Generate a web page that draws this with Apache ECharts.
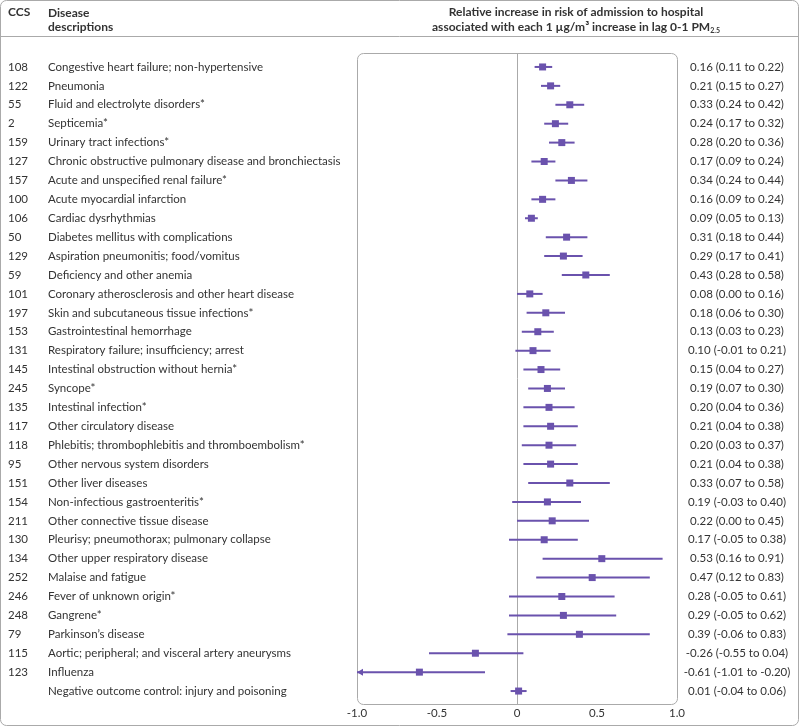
<!DOCTYPE html>
<html>
<head>
<meta charset="utf-8">
<script src="https://cdn.jsdelivr.net/npm/echarts@6/dist/echarts.min.js"></script>
<style>
  html, body { margin: 0; padding: 0; background: #fff; }
  #chart { width: 800px; height: 727px; }
</style>
</head>
<body>
<div id="chart"></div>
<script>
const ccs = ['108', '122', '55', '2', '159', '127', '157', '100', '106', '50', '129', '59', '101', '197', '153', '131', '145', '245', '135', '117', '118', '95', '151', '154', '211', '130', '134', '252', '246', '248', '79', '115', '123', '']
const diseases = [
  'Congestive heart failure; non-hypertensive',
  'Pneumonia',
  'Fluid and electrolyte disorders*',
  'Septicemia*',
  'Urinary tract infections*',
  'Chronic obstructive pulmonary disease and bronchiectasis',
  'Acute and unspecified renal failure*',
  'Acute myocardial infarction',
  'Cardiac dysrhythmias',
  'Diabetes mellitus with complications',
  'Aspiration pneumonitis; food/vomitus',
  'Deficiency and other anemia',
  'Coronary atherosclerosis and other heart disease',
  'Skin and subcutaneous tissue infections*',
  'Gastrointestinal hemorrhage',
  'Respiratory failure; insufficiency; arrest',
  'Intestinal obstruction without hernia*',
  'Syncope*',
  'Intestinal infection*',
  'Other circulatory disease',
  'Phlebitis; thrombophlebitis and thromboembolism*',
  'Other nervous system disorders',
  'Other liver diseases',
  'Non-infectious gastroenteritis*',
  'Other connective tissue disease',
  'Pleurisy; pneumothorax; pulmonary collapse',
  'Other upper respiratory disease',
  'Malaise and fatigue',
  'Fever of unknown origin*',
  'Gangrene*',
  'Parkinson\u2019s disease',
  'Aortic; peripheral; and visceral artery aneurysms',
  'Influenza',
  'Negative outcome control: injury and poisoning'
]
const est = [0.16, 0.21, 0.33, 0.24, 0.28, 0.17, 0.34, 0.16, 0.09, 0.31, 0.29, 0.43, 0.08, 0.18, 0.13, 0.10, 0.15, 0.19, 0.20, 0.21, 0.20, 0.21, 0.33, 0.19, 0.22, 0.17, 0.53, 0.47, 0.28, 0.29, 0.39, -0.26, -0.61, 0.01]
const lower = [0.11, 0.15, 0.24, 0.17, 0.20, 0.09, 0.24, 0.09, 0.05, 0.18, 0.17, 0.28, 0.00, 0.06, 0.03, -0.01, 0.04, 0.07, 0.04, 0.04, 0.03, 0.04, 0.07, -0.03, 0.00, -0.05, 0.16, 0.12, -0.05, -0.05, -0.06, -0.55, -1.01, -0.04]
const upper = [0.22, 0.27, 0.42, 0.32, 0.36, 0.24, 0.44, 0.24, 0.13, 0.44, 0.41, 0.58, 0.16, 0.30, 0.23, 0.21, 0.27, 0.30, 0.36, 0.38, 0.37, 0.38, 0.58, 0.40, 0.45, 0.38, 0.91, 0.83, 0.61, 0.62, 0.83, 0.04, -0.20, 0.06]
const xTicks = ['-1.0', '-0.5', '0', '0.5', '1.0']
const xMin = -1
const xMax = 1

const textColor = '#333'
const markColor = '#6a52ad'
const lineGray = '#aaa'
const font = 'Lato, "Noto Sans", sans-serif'
const bodySize = 11.5

const fmt = v => v.toFixed(2)
const ciLabels = est.map((e, i) => `${fmt(e)} (${fmt(lower[i])} to ${fmt(upper[i])})`)

const chart = echarts.init(document.getElementById('chart'))

const gridTop = 57.5
const gridHeight = 643

const option = {
  animation: false,
  textStyle: { fontFamily: font },
  grid: { left: 357, width: 320, top: gridTop, height: gridHeight },
  xAxis: {
    type: 'value',
    min: xMin,
    max: xMax,
    interval: 0.5,
    axisLine: { show: false },
    axisTick: { show: false },
    splitLine: { show: false },
    axisLabel: {
      margin: 7,
      fontSize: bodySize,
      color: textColor,
      fontFamily: font,
      formatter: v => xTicks[Math.round((v - xMin) / 0.5)]
    }
  },
  yAxis: [
    {
      type: 'category',
      inverse: true,
      data: diseases,
      position: 'left',
      axisLine: { show: false },
      axisTick: { show: false },
      axisLabel: {
        interval: 0,
        align: 'left',
        margin: 349,
        formatter: (v, i) => `{c|${ccs[i]}}{d|${v}}`,
        rich: {
          c: { width: 40, fontSize: bodySize, color: textColor, fontFamily: font },
          d: { fontSize: bodySize, color: textColor, fontFamily: font }
        }
      }
    },
    {
      type: 'category',
      inverse: true,
      data: ciLabels,
      position: 'right',
      axisLine: { show: false },
      axisTick: { show: false },
      axisLabel: {
        interval: 0,
        align: 'center',
        margin: 60,
        fontSize: bodySize,
        color: textColor,
        fontFamily: font
      }
    }
  ],
  series: [
    {
      type: 'custom',
      xAxisIndex: 0,
      yAxisIndex: 0,
      clip: false,
      data: est.map((e, i) => [e, i, lower[i], upper[i]]),
      encode: { x: 0, y: 1 },
      renderItem(params, api) {
        const row = api.value(1)
        const lo = api.value(2)
        const hi = api.value(3)
        const p = api.coord([api.value(0), row])
        const pLo = api.coord([Math.max(lo, xMin), row])
        const pHi = api.coord([Math.min(hi, xMax), row])
        const children = [
          {
            type: 'line',
            shape: { x1: pLo[0], y1: p[1], x2: pHi[0], y2: p[1] },
            style: { stroke: markColor, lineWidth: 2 }
          },
          {
            type: 'rect',
            shape: { x: p[0] - 3.5, y: p[1] - 3.5, width: 7, height: 7 },
            style: { fill: markColor }
          }
        ]
        if (lo < xMin) {
          children.push({
            type: 'polygon',
            shape: { points: [[pLo[0], p[1]], [pLo[0] + 6, p[1] - 3.5], [pLo[0] + 6, p[1] + 3.5]] },
            style: { fill: markColor }
          })
        }
        return { type: 'group', children }
      }
    }
  ]
}
chart.setOption(option)

// frame, header and zero line, placed from the grid's own scale
const xLeft = chart.convertToPixel({ xAxisIndex: 0 }, xMin)
const xRight = chart.convertToPixel({ xAxisIndex: 0 }, xMax)
const xZero = chart.convertToPixel({ xAxisIndex: 0 }, 0)
const boxTop = gridTop - 4.5
const boxBottom = gridTop + gridHeight + 3.5
const headStyle = { fill: textColor, fontFamily: font, fontSize: 12, fontWeight: 'bold' }

chart.setOption({
  graphic: [
    {
      type: 'rect', z: -1,
      shape: { x: 0.5, y: 0.5, width: 798, height: 725, r: 6 },
      style: { fill: null, stroke: lineGray, lineWidth: 1 }
    },
    {
      type: 'line',
      shape: { x1: 0, y1: 36.5, x2: 799, y2: 36.5 },
      style: { stroke: lineGray, lineWidth: 1 }
    },
    {
      type: 'rect', z: -1,
      shape: { x: xLeft + 0.5, y: boxTop + 0.5, width: xRight - xLeft, height: boxBottom - boxTop, r: 6 },
      style: { fill: null, stroke: lineGray, lineWidth: 1 }
    },
    {
      type: 'line', z: -1,
      shape: { x1: xZero + 0.5, y1: boxTop, x2: xZero + 0.5, y2: boxBottom },
      style: { stroke: lineGray, lineWidth: 1 }
    },
    { type: 'text', x: 8, y: 6, style: Object.assign({ text: 'CCS' }, headStyle) },
    { type: 'text', x: 48, y: 6, style: Object.assign({ text: 'Disease\ndescriptions', lineHeight: 14 }, headStyle) },
    {
      type: 'text', x: 576, y: 6,
      style: Object.assign({ text: 'Relative increase in risk of admission to hospital', align: 'center' }, headStyle)
    },
    {
      type: 'text', x: 576, y: 20,
      style: Object.assign({
        text: 'associated with each 1 \u00b5g/m\u00b3 increase in lag 0-1 PM{s|2.5}',
        align: 'center',
        rich: {
          s: { fill: textColor, fontFamily: font, fontSize: 7, fontWeight: 'bold', padding: [7, 0, 0, 0] }
        }
      }, headStyle)
    }
  ]
})

window.onresize = function() {
  chart.resize()
}
</script>
</body>
</html>
